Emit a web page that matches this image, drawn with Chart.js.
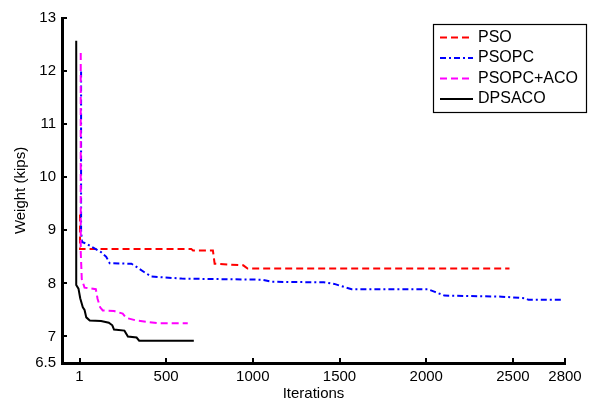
<!DOCTYPE html>
<html>
<head>
<meta charset="utf-8">
<script src="https://cdn.jsdelivr.net/npm/chart.js@4.4.0/dist/chart.umd.min.js"></script>
<style>
  html, body { margin: 0; padding: 0; background: #fff; }
  #wrap { width: 611px; height: 405px; }
</style>
</head>
<body>
<div id="wrap"><canvas id="chart" width="611" height="405"></canvas></div>
<script>
// series values (iteration, weight in kips)
const psoIter = [4, 4, 645, 655, 770, 780, 945, 970, 2480];
const psoWeight = [9.3, 8.65, 8.65, 8.62, 8.62, 8.37, 8.34, 8.28, 8.28];

const psopcIter = [10, 10, 15, 40, 70, 125, 155, 175, 300, 330, 375, 415, 590, 1050, 1110, 1410, 1470, 1510, 1570, 2010, 2050, 2105, 2435, 2570, 2590, 2790];
const psopcWeight = [11.99, 9.0, 8.78, 8.75, 8.69, 8.59, 8.50, 8.38, 8.37, 8.31, 8.21, 8.13, 8.09, 8.07, 8.03, 8.02, 7.99, 7.95, 7.89, 7.89, 7.84, 7.77, 7.75, 7.72, 7.69, 7.69];

const acoIter = [8, 8, 14, 30, 95, 105, 120, 135, 200, 250, 270, 330, 450, 625];
const acoWeight = [12.34, 8.6, 8.08, 7.92, 7.89, 7.71, 7.55, 7.49, 7.48, 7.43, 7.35, 7.30, 7.25, 7.25];

const dpsIter = [-18, -18, -5, 5, 20, 30, 40, 60, 125, 170, 190, 200, 260, 280, 330, 345, 660];
const dpsWeight = [12.57, 7.97, 7.9, 7.72, 7.55, 7.5, 7.36, 7.30, 7.29, 7.26, 7.21, 7.13, 7.11, 7.0, 6.98, 6.92, 6.92];

const seriesNames = ['PSO', 'PSOPC', 'PSOPC+ACO', 'DPSACO'];
const xTicks = [1, 500, 1000, 1500, 2000, 2500, 2800];
const yTicks = [6.5, 7, 8, 9, 10, 11, 12, 13];

const FONT = 'Liberation Sans, Arial, Helvetica, sans-serif';
const colors = ['#ff0000', '#0000ff', '#ff00ff', '#000000'];
const dashes = [[7, 4], [6, 3, 2, 3], [7, 4], []];

function pts(xs, ys) {
  return xs.map((x, i) => ({ x: x, y: ys[i] }));
}

const allData = [
  pts(psoIter, psoWeight),
  pts(psopcIter, psopcWeight),
  pts(acoIter, acoWeight),
  pts(dpsIter, dpsWeight)
];

// matlab style: ticks drawn inward, boxed legend in the corner
const matlabBits = {
  id: 'matlabBits',
  afterDraw(chart) {
    const ctx = chart.ctx;
    const xs = chart.scales.x, ys = chart.scales.y;
    const area = chart.chartArea;
    ctx.save();
    ctx.strokeStyle = '#000';
    ctx.lineWidth = 2;
    xTicks.forEach(v => {
      const px = Math.round(xs.getPixelForValue(v));
      ctx.beginPath();
      ctx.moveTo(px, area.bottom);
      ctx.lineTo(px, area.bottom - 5);
      ctx.stroke();
    });
    yTicks.forEach(v => {
      const py = Math.round(ys.getPixelForValue(v));
      ctx.beginPath();
      ctx.moveTo(area.left, py);
      ctx.lineTo(area.left + 5, py);
      ctx.stroke();
    });

    // legend
    const lx = 433, ly = 24, lw = 153, lh = 88;
    ctx.fillStyle = '#fff';
    ctx.fillRect(lx, ly, lw, lh);
    ctx.lineWidth = 1.2;
    ctx.strokeStyle = '#000';
    ctx.strokeRect(lx + 0.5, ly + 0.5, lw, lh);
    ctx.font = '16px ' + FONT;
    ctx.textBaseline = 'middle';
    ctx.textAlign = 'left';
    seriesNames.forEach((name, i) => {
      const y = ly + 13.5 + i * 20.5;
      ctx.strokeStyle = colors[i];
      ctx.lineWidth = 2;
      ctx.setLineDash(dashes[i]);
      ctx.beginPath();
      ctx.moveTo(440, y);
      ctx.lineTo(473, y);
      ctx.stroke();
      ctx.setLineDash([]);
      ctx.fillStyle = '#000';
      ctx.fillText(name, 478, y);
    });
    ctx.restore();
  }
};

new Chart(document.getElementById('chart'), {
  type: 'line',
  data: {
    datasets: seriesNames.map((name, i) => ({
      label: name,
      data: allData[i],
      borderColor: colors[i],
      borderWidth: 2,
      borderDash: dashes[i],
      pointRadius: 0,
      fill: false,
      tension: 0,
      order: 3 - i
    }))
  },
  options: {
    responsive: false,
    animation: false,
    layout: { padding: { left: 0, right: 46, top: 18, bottom: 0 } },
    plugins: {
      legend: { display: false },
      tooltip: { enabled: false }
    },
    scales: {
      x: {
        type: 'linear',
        min: -100,
        max: 2800,
        afterBuildTicks: s => { s.ticks = xTicks.map(v => ({ value: v })); },
        afterFit: s => { s.height = 42; },
        grid: { display: false, drawTicks: false, tickLength: 0 },
        border: { display: true, color: '#000', width: 3 },
        ticks: {
          color: '#000',
          font: { family: FONT, size: 15 },
          padding: 5,
          maxRotation: 0,
          autoSkip: false,
          callback: v => String(v)
        },
        title: {
          display: true,
          text: 'Iterations',
          color: '#000',
          font: { family: FONT, size: 15 },
          padding: { top: 0, bottom: 2 }
        }
      },
      y: {
        type: 'linear',
        min: 6.5,
        max: 13,
        afterBuildTicks: s => { s.ticks = yTicks.map(v => ({ value: v })); },
        afterFit: s => { s.width = 62; },
        grid: { display: false, drawTicks: false, tickLength: 0 },
        border: { display: true, color: '#000', width: 3 },
        ticks: {
          color: '#000',
          font: { family: FONT, size: 15 },
          padding: 6,
          autoSkip: false,
          callback: v => String(v)
        },
        title: {
          display: true,
          text: 'Weight (kips)',
          color: '#000',
          font: { family: FONT, size: 15 },
          padding: { top: 12, bottom: 0 }
        }
      }
    }
  },
  plugins: [matlabBits]
});
</script>
</body>
</html>
